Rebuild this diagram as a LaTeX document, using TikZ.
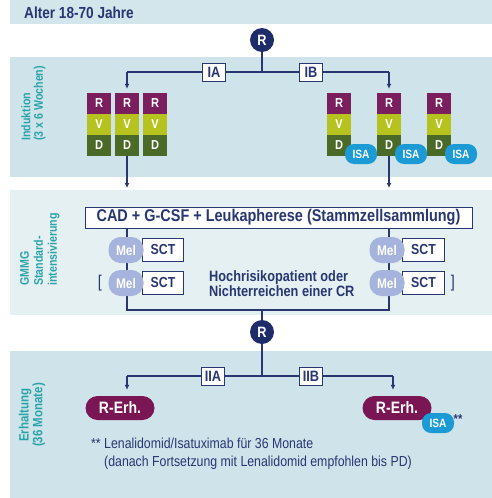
\documentclass[tikz,border=0pt]{standalone}
\usepackage{fontspec}
\setmainfont[FakeStretch=0.85]{Liberation Sans}
\usepackage{tikz}
\definecolor{navyBlue}{RGB}{40,54,114}
\definecolor{darkNavy}{RGB}{30,44,106}
\definecolor{bandBlue}{RGB}{206,228,234}
\definecolor{paleBlue}{RGB}{229,240,243}
\definecolor{topBlue}{RGB}{211,230,236}
\definecolor{labelTeal}{RGB}{42,164,168}
\definecolor{revPurple}{RGB}{123,30,94}
\definecolor{velGreen}{RGB}{182,194,30}
\definecolor{dexGreen}{RGB}{75,106,40}
\definecolor{isaBlue}{RGB}{27,154,214}
\definecolor{melLilac}{RGB}{166,179,221}
\definecolor{erhPurple}{RGB}{122,22,84}
\usetikzlibrary{arrows.meta}

\tikzset{
  flow/.style={navyBlue, line width=1.2pt},
  flowarrow/.style={flow, -{Latex[length=5pt,width=5pt]}},
  armbox/.style={draw=navyBlue, line width=1pt, fill=white, text=navyBlue,
    font=\bfseries\fontsize{15}{17}\selectfont, minimum width=23pt, minimum height=18pt, inner sep=1pt},
  randnode/.style={circle, fill=darkNavy, text=white, font=\bfseries\fontsize{15}{17}\selectfont,
    minimum size=24pt, inner sep=0pt},
  drugcell/.style={minimum width=24pt, minimum height=21pt, inner sep=0pt, text=white,
    font=\bfseries\fontsize{13}{15}\selectfont},
  isa/.style={fill=isaBlue, rounded corners=9pt, text=white, minimum width=32pt, minimum height=20pt,
    inner sep=0pt, font=\bfseries\fontsize{12}{14}\selectfont},
  mel/.style={fill=melLilac, rounded corners=12pt, text=white, minimum width=35pt, minimum height=26pt,
    inner sep=0pt, font=\bfseries\fontsize{14}{16}\selectfont},
  sctbox/.style={draw=navyBlue, line width=1pt, fill=white, text=navyBlue, minimum height=23pt,
    inner sep=0pt, font=\bfseries\fontsize{14.5}{16}\selectfont},
  erhpill/.style={fill=erhPurple, rounded corners=12pt, text=white, minimum width=69pt, minimum height=24pt,
    inner sep=0pt, font=\bfseries\fontsize{16.5}{18}\selectfont},
  sidelabel/.style={rotate=90, inner sep=0pt, text=labelTeal, font=\bfseries\fontsize{12.5}{12.5}\selectfont},
  bodytext/.style={text=navyBlue, inner sep=0pt}
}

\begin{document}
\begin{tikzpicture}[x=1pt,y=-1pt]
  \useasboundingbox (0,0) rectangle (492,498);

  \fill[topBlue]  (10,0)   rectangle (492,24);
  \fill[bandBlue] (10,57)  rectangle (492,177);
  \fill[paleBlue] (10,190) rectangle (492,315);
  \fill[bandBlue] (10,351) rectangle (492,498);

  \node[bodytext, anchor=west, font=\bfseries\fontsize{16}{18}\selectfont] (age) at (24,13) {Alter 18-70 Jahre};

  \node[sidelabel, align=left, anchor=north west] (indLabel)  at (21,141) {Induktion\\(3 x 6 Wochen)};
  \node[sidelabel, align=left, anchor=north west, font=\bfseries\fontsize{12.5}{14}\selectfont]
        (gmmgLabel) at (20,286) {GMMG\\Standard-\\intensivierung};
  \node[sidelabel, align=center, font=\bfseries\fontsize{13.5}{12.5}\selectfont]
        (erhLabel)  at (32,415) {Erhaltung\\(36 Monate)};

  % Induktion
  \node[randnode] (randA) at (262,40) {R};
  \coordinate (splitA) at (262,72);
  \coordinate (armIA)  at (127,72);
  \coordinate (armIB)  at (389,72);
  \draw[flow] (randA) -- (splitA);
  \draw[flow] (armIA) -- (armIB);
  \node[armbox] (ia) at (214,72) {IA};
  \node[armbox] (ib) at (311,72) {IB};

  \foreach \n/\x in {l1/99, l2/127, l3/155, r1/339, r2/389, r3/439} {
    \node[drugcell, fill=revPurple] (\n R) at (\x,103.5) {R};
    \node[drugcell, fill=velGreen]  (\n V) at (\x,124.5) {V};
    \node[drugcell, fill=dexGreen]  (\n D) at (\x,145.5) {D};
  }
  \foreach \n in {r1, r2, r3}
    \node[isa] (\n isa) at ([xshift=22pt,yshift=-8.5pt]\n D) {ISA};

  \draw[flowarrow, shorten >=4pt] (armIA) -- (l2R.north);
  \draw[flowarrow, shorten >=4pt] (armIB) -- (r2R.north);
  \coordinate (inL) at (127,188);
  \coordinate (inR) at (389,188);
  \draw[flowarrow] (l2D.south) -- (inL);
  \draw[flowarrow] (r2D.south) -- (inR);

  % GMMG
  \node[draw=navyBlue, line width=1pt, fill=white, text=navyBlue, minimum width=387pt, minimum height=21pt,
        inner sep=0pt, font=\bfseries\fontsize{17}{19}\selectfont] (cad) at (278.5,217.5)
        {CAD + G-CSF + Leukapherese (Stammzellsammlung)};
  \coordinate (joinL) at (127,310);
  \coordinate (joinM) at (262,310);
  \coordinate (joinR) at (389,310);
  \draw[flow] (cad.south -| joinL) -- (joinL) -- (joinR) -- (cad.south -| joinR);

  \node[sctbox, anchor=west, minimum width=41pt] (sctL1) at (142,250) {SCT};
  \node[sctbox, anchor=west, minimum width=41pt] (sctL2) at (142,283) {SCT};
  \node[sctbox, anchor=west, minimum width=42pt] (sctR1) at (402,250) {SCT};
  \node[sctbox, anchor=west, minimum width=42pt] (sctR2) at (402,283) {SCT};
  \node[mel] (melL1) at (126,250) {Mel};
  \node[mel] (melL2) at (126,283) {Mel};
  \node[mel] (melR1) at (387,250) {Mel};
  \node[mel] (melR2) at (387,283) {Mel};
  \node[bodytext, font=\fontsize{17}{19}\selectfont] (openBr)  at (100,283) {[};
  \node[bodytext, font=\fontsize{17}{19}\selectfont] (closeBr) at (453,283) {]};
  \node[bodytext, anchor=west, align=left, font=\bfseries\fontsize{15}{15}\selectfont] (highRisk) at (209,284)
        {Hochrisikopatient oder\\Nichterreichen einer CR};

  % Erhaltung
  \node[randnode] (randB) at (262,332) {R};
  \draw[flow] (joinM) -- (randB);
  \coordinate (splitB)  at (262,376);
  \coordinate (armIIA)  at (127,376);
  \coordinate (armIIB)  at (393,376);
  \draw[flow] (randB) -- (splitB);
  \draw[flow] (armIIA) -- (armIIB);
  \node[armbox] (iia) at (213,376) {IIA};
  \node[armbox] (iib) at (311,376) {IIB};

  \node[erhpill] (erhA) at (120,408) {R-Erh.};
  \node[erhpill] (erhB) at (397,408) {R-Erh.};
  \node[isa] (erhIsa) at (438,423) {ISA};
  \node[bodytext, font=\bfseries\fontsize{13}{15}\selectfont] (stars) at (458,419) {**};
  \draw[flowarrow, shorten >=6pt] (armIIA) -- (armIIA |- erhA.north);
  \draw[flowarrow, shorten >=6pt] (armIIB) -- (armIIB |- erhB.north);

  \node[bodytext, anchor=west, align=left, font=\fontsize{14.5}{18}\selectfont] (note) at (91,454)
        {** Lenalidomid/Isatuximab für 36 Monate\\\hphantom{** }(danach Fortsetzung mit Lenalidomid empfohlen bis PD)};
\end{tikzpicture}
\end{document}
